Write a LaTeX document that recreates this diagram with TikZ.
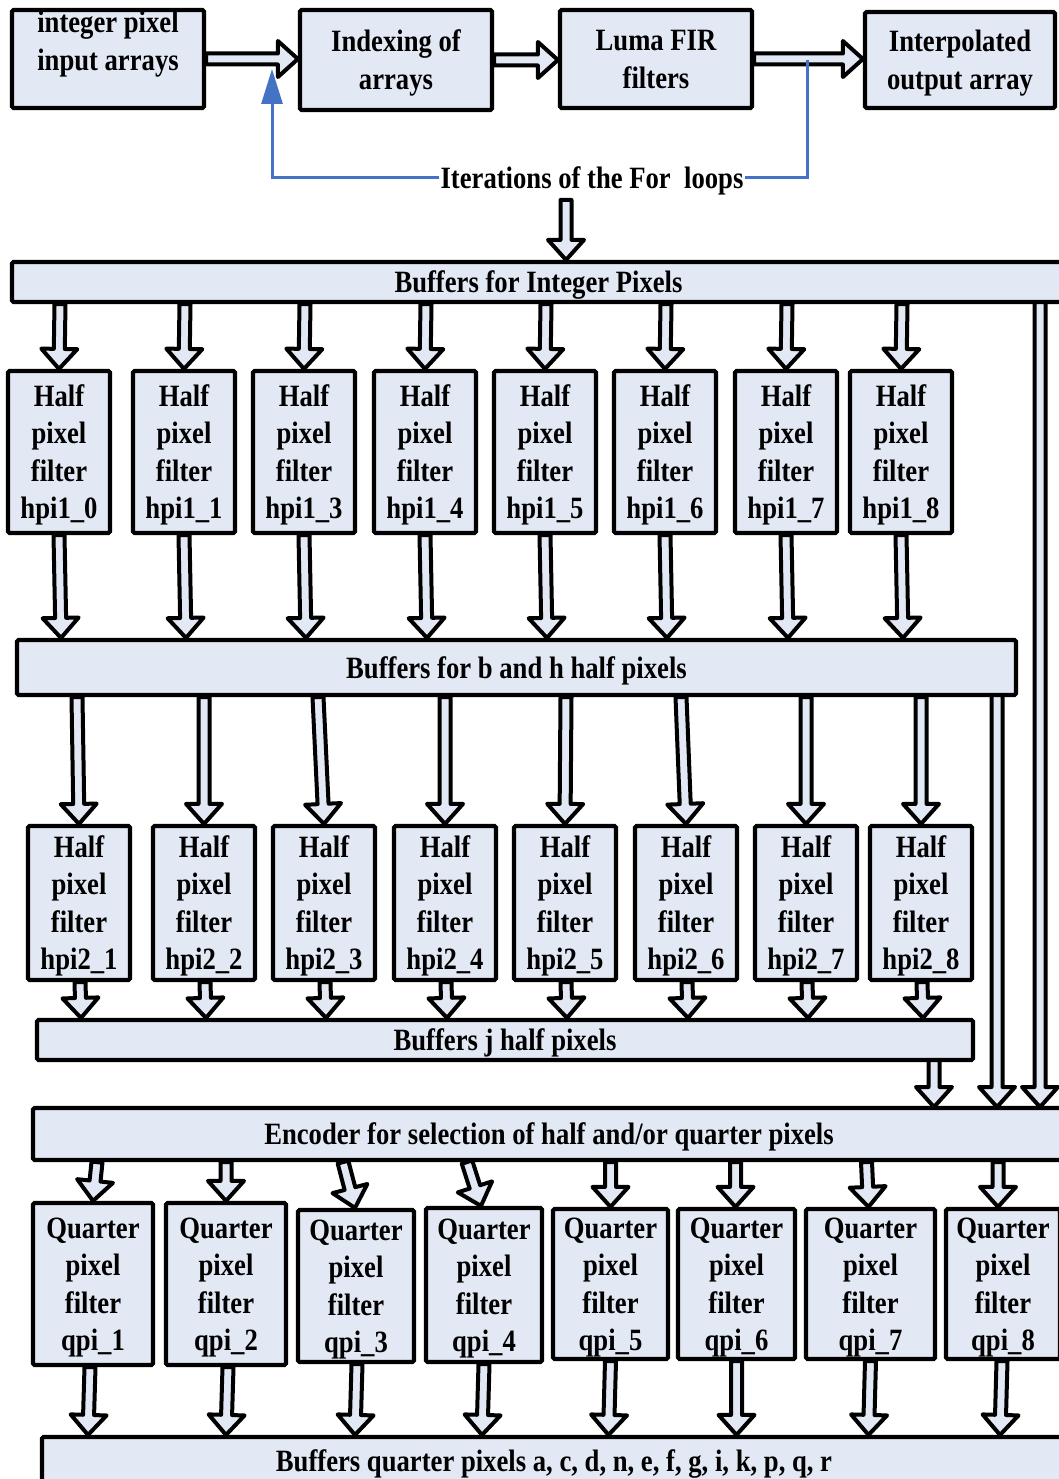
\documentclass[tikz,border=0pt]{standalone}
\usepackage{fontspec}
\setmainfont{Liberation Serif}[FakeStretch=0.86]
\usetikzlibrary{calc,arrows.meta}
\definecolor{boxfill}{HTML}{E3E9F4}
\definecolor{loopblue}{HTML}{4472C4}
\newcommand\bashaft{5.5pt}
\newcommand\bawide{18pt}
\newcommand\bahead{20pt}
\newcommand\barr[2]{%
  \coordinate (bas) at #1;
  \coordinate (bae) at #2;
  \coordinate (bat) at ($(bae)!\bahead!(bas)$);
  \filldraw[blockarrow] ($(bas)!\bashaft!90:(bae)$) -- ($(bat)!\bashaft!90:(bae)$) -- ($(bat)!\bawide!90:(bae)$) -- (bae) -- ($(bat)!\bawide!-90:(bae)$) -- ($(bat)!\bashaft!-90:(bae)$) -- ($(bas)!\bashaft!-90:(bae)$) -- cycle;}
\newcommand\lbl[1]{\raisebox{-3pt}[\height][\depth]{\begin{tabular}{@{}c@{}}#1\end{tabular}}}
\tikzset{
  fbox/.style={draw, line width=4.2pt, fill=boxfill, rounded corners=1.5pt, inner sep=0pt,
    font=\fontsize{31}{37.5}\selectfont\bfseries},
  bar/.style={fbox},
  txt/.style={inner sep=1pt, font=\fontsize{31}{37.5}\selectfont\bfseries},
  blockarrow/.style={line width=4pt, fill=boxfill, draw=black, line join=round},
  loopline/.style={draw=loopblue, line width=3pt}
}
\begin{document}
\begin{tikzpicture}[x=1pt,y=-1pt]
\useasboundingbox (0,0) rectangle (1059,1479);
% top row
\node[fbox, minimum width=192pt, minimum height=98pt] (in) at (108,59) {};
\node[txt] (inlbl) at (108,41) {\lbl{integer pixel\\input arrays}};
\node[fbox, minimum width=192pt, minimum height=100pt] (ix) at (396,60) {\lbl{Indexing of\\arrays}};
\node[fbox, minimum width=192pt, minimum height=98pt] (lf) at (656,59) {\lbl{Luma FIR\\filters}};
\node[fbox, minimum width=190pt, minimum height=96pt] (io) at (960,60) {\lbl{Interpolated\\output array}};
\barr{(in.east)}{(in.east -| ix.west)}
\barr{(ix.east)}{(ix.east -| lf.west)}
\barr{(lf.east)}{(lf.east -| io.west)}
% loop
\node[txt] (iter) at (592,178) {\lbl{Iterations of the For\ \ loops}};
\coordinate (loopR) at (807,60);
\coordinate (loopL) at (272,69);
\draw[loopline] (loopR) |- (iter.east);
\draw[loopline, -{Triangle[length=35pt,width=21pt]}] (iter.west) -| (loopL);
% bars
\node[bar, minimum width=1053pt, minimum height=40pt] (ib) at (538.5,282) {\lbl{Buffers for Integer Pixels}};
\node[bar, minimum width=999pt, minimum height=55pt] (bh) at (516.5,667.5) {\lbl{Buffers for b and h half pixels}};
\node[bar, minimum width=936pt, minimum height=40pt] (jb) at (505,1040) {\lbl{Buffers j half pixels}};
\node[bar, minimum width=1032pt, minimum height=52pt] (enc) at (549,1134) {\lbl{Encoder for selection of half and/or quarter pixels}};
\node[bar, minimum width=1024pt, minimum height=47pt] (qb) at (554,1460.5) {\lbl{Buffers quarter pixels a, c, d, n, e, f, g, i, k, p, q, r}};
\barr{($(iter.south)+(-26,2)$)}{($(ib.north)+(27.5,0)$)}
% row 1
\foreach \x/\l [count=\i] in {59/0,184/1,304/3,425/4,545/5,665/6,786/7,901/8}{
  \node[fbox, minimum width=102pt, minimum height=162pt] (h1\i) at (\x,452) {\lbl{Half\\pixel\\filter\\hpi1\_\l}};
}
% row 2
\foreach \x/\l in {79/1,204/2,324/3,445/4,565/5,686/6,806/7,921/8}{
  \node[fbox, minimum width=102pt, minimum height=154pt] (h2\l) at (\x,903) {\lbl{Half\\pixel\\filter\\hpi2\_\l}};
}
% quarter row
\foreach \x/\y/\w/\h/\l in {93/1284/120/162/1,226/1284/120/162/2,356/1286/116/152/3,484/1285/116/154/4,610.5/1284/115/148/5,736.5/1284/117/148/6,870.5/1284/129/148/7,1003/1284/114/148/8}{
  \node[fbox, minimum width=\w pt, minimum height=\h pt] (q\l) at (\x,\y) {\lbl{Quarter\\pixel\\filter\\qpi\_\l}};
}
% arrows row 1
\foreach \i in {1,...,8}{
  \barr{($(h1\i.north |- ib.south)+(1,0)$)}{(h1\i.north)}
  \barr{(h1\i.south)}{($(h1\i.south |- bh.north)+(2,0)$)}
}
% arrows row 2
\foreach \i/\d in {1/-2,2/0,3/-6,4/0,5/1,6/-5,7/0,8/0}{
  \barr{($(h2\i.north |- bh.south)+(\d,0)$)}{(h2\i.north)}
  \barr{($(h2\i.south)+(1,0)$)}{($(h2\i.south |- jb.north)+(2,0)$)}
}
% arrows into encoder
\barr{(934,1060)}{(934,1107)}
\barr{(997,695)}{(997,1107)}
\barr{(1040,302)}{(1040,1107)}
% quarter arrows
\foreach \i/\a/\b in {1/4/0,2/0/0,3/-13/-1,4/-17/-3,5/0/0,6/-1/-1,7/-4/-2,8/-5/-5}{
  \barr{($(q\i.north |- enc.south)+(\a,0)$)}{($(q\i.north)+(\b,0)$)}
}
\foreach \i/\a/\b in {1/-3/-5,2/2/0,3/1/-1,4/0/-2,5/0/-2,6/0/0,7/0/-2,8/-1/-3}{
  \barr{($(q\i.south)+(\a,0)$)}{($(q\i.south |- qb.north)+(\b,0)$)}
}
\end{tikzpicture}
\end{document}
